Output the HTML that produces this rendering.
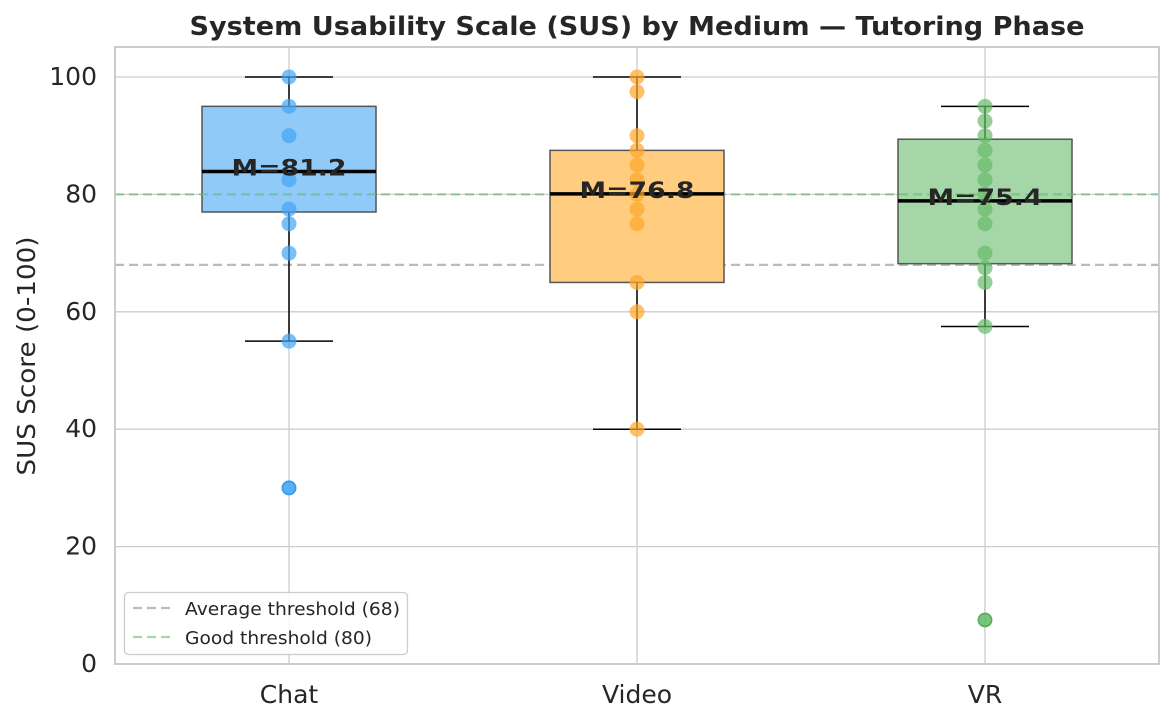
<!DOCTYPE html>
<html><head><meta charset="utf-8"><style>
html,body{margin:0;padding:0;background:#fff;}
svg{display:block;font-family:"DejaVu Sans","Liberation Sans",sans-serif;}
</style></head><body>
<svg id="s" width="1173" height="723" xmlns="http://www.w3.org/2000/svg"></svg>
<script>
const s=document.getElementById('s');
const Y=v=>664-5.87*v;
let h='';
h+='<rect x="115" y="47" width="1044" height="617" fill="#fff"/>';
for(let v=0;v<=100;v+=20){const y=Y(v);h+=`<line x1="115" x2="1159" y1="${y}" y2="${y}" stroke="#cccccc" stroke-width="1.3"/>`;
h+=`<text x="97" y="${y+8}" font-size="25" fill="#262626" text-anchor="end">${v}</text>`;}
const xs=[289,637,985];
xs.forEach(x=>h+=`<line x1="${x}" x2="${x}" y1="47" y2="664" stroke="#cccccc" stroke-width="1.3"/>`);
h+=`<line x1="115" x2="1159" y1="${Y(68)}" y2="${Y(68)}" stroke="#bbbbbb" stroke-width="2.2" stroke-dasharray="9,5"/>`;
const data=[
 {x:289,c:'#42a5f5',e:'#1e78c8',f:'#90caf9',q1:77,q3:95,med:83.9,lo:55,hi:100,m:'M=81.2',pts:[100,95,90,82.5,77.5,75,70,55],out:[30]},
 {x:637,c:'#ffa726',e:'#e08000',f:'#ffcc80',q1:65,q3:87.5,med:80.1,lo:40,hi:100,m:'M=76.8',pts:[100,97.5,90,87.5,85,82.5,80,77.5,75,65,60,40],out:[]},
 {x:985,c:'#66bb6a',e:'#3a8a3e',f:'#a5d6a7',q1:68.2,q3:89.4,med:78.9,lo:57.5,hi:95,m:'M=75.4',pts:[95,92.5,90,87.5,85,82.5,80,77.5,75,70,67.5,65,57.5],out:[7.5]}];
data.forEach(d=>{
 const x=d.x;
 h+=`<line x1="${x}" x2="${x}" y1="${Y(d.hi)}" y2="${Y(d.q3)}" stroke="#000" stroke-width="1.5"/>`;
 h+=`<line x1="${x}" x2="${x}" y1="${Y(d.q1)}" y2="${Y(d.lo)}" stroke="#000" stroke-width="1.5"/>`;
 h+=`<line x1="${x-44}" x2="${x+44}" y1="${Y(d.hi)}" y2="${Y(d.hi)}" stroke="#000" stroke-width="1.5"/>`;
 h+=`<line x1="${x-44}" x2="${x+44}" y1="${Y(d.lo)}" y2="${Y(d.lo)}" stroke="#000" stroke-width="1.5"/>`;
 h+=`<rect x="${x-87}" y="${Y(d.q3)}" width="174" height="${Y(d.q1)-Y(d.q3)}" fill="${d.f}" stroke="#555" stroke-width="1.5"/>`;
 d.out.forEach(p=>h+=`<circle cx="${x}" cy="${Y(p)}" r="6.5" fill="${d.c}" fill-opacity="0.6" stroke="${d.e}" stroke-width="1.5"/>`);
});
h+=`<line x1="115" x2="1159" y1="${Y(80)}" y2="${Y(80)}" stroke="#66bb6a" stroke-opacity="0.6" stroke-width="2.2" stroke-dasharray="9,5"/>`;
data.forEach(d=>{
 h+=`<line x1="${d.x-87}" x2="${d.x+87}" y1="${Y(d.med)}" y2="${Y(d.med)}" stroke="#000" stroke-width="3.5"/>`;
 d.pts.concat(d.out).forEach(p=>h+=`<circle cx="${d.x}" cy="${Y(p)}" r="7.5" fill="${d.c}" fill-opacity="0.7"/>`);
 h+=`<text x="${d.x}" y="${Y(d.med)+4}" font-size="22" font-weight="bold" fill="#262626" text-anchor="middle" textLength="115" lengthAdjust="spacingAndGlyphs">${d.m}</text>`;
});
h+='<rect x="115" y="47" width="1044" height="617" fill="none" stroke="#cccccc" stroke-width="2"/>';
['Chat','Video','VR'].forEach((t,i)=>h+=`<text x="${xs[i]}" y="703" font-size="25" fill="#262626" text-anchor="middle">${t}</text>`);
h+='<text x="637" y="35" font-size="26" font-weight="bold" fill="#262626" text-anchor="middle" textLength="895" lengthAdjust="spacingAndGlyphs">System Usability Scale (SUS) by Medium — Tutoring Phase</text>';
h+='<text transform="translate(35,356) rotate(-90)" font-size="25" fill="#262626" text-anchor="middle" textLength="239" lengthAdjust="spacingAndGlyphs">SUS Score (0-100)</text>';
h+='<rect x="124.5" y="592.5" width="283" height="62" rx="4" fill="#fff" fill-opacity="0.85" stroke="#cccccc" stroke-width="1.3"/>';
h+='<line x1="133" x2="170" y1="608" y2="608" stroke="#bbbbbb" stroke-width="2.2" stroke-dasharray="9,5"/>';
h+='<line x1="133" x2="170" y1="637" y2="637" stroke="#a5d6a7" stroke-width="2.2" stroke-dasharray="9,5"/>';
h+='<text x="185" y="615" font-size="18" fill="#262626" textLength="215" lengthAdjust="spacingAndGlyphs">Average threshold (68)</text>';
h+='<text x="185" y="644" font-size="18" fill="#262626" textLength="187" lengthAdjust="spacingAndGlyphs">Good threshold (80)</text>';
s.innerHTML=h;
</script>
</body></html>
